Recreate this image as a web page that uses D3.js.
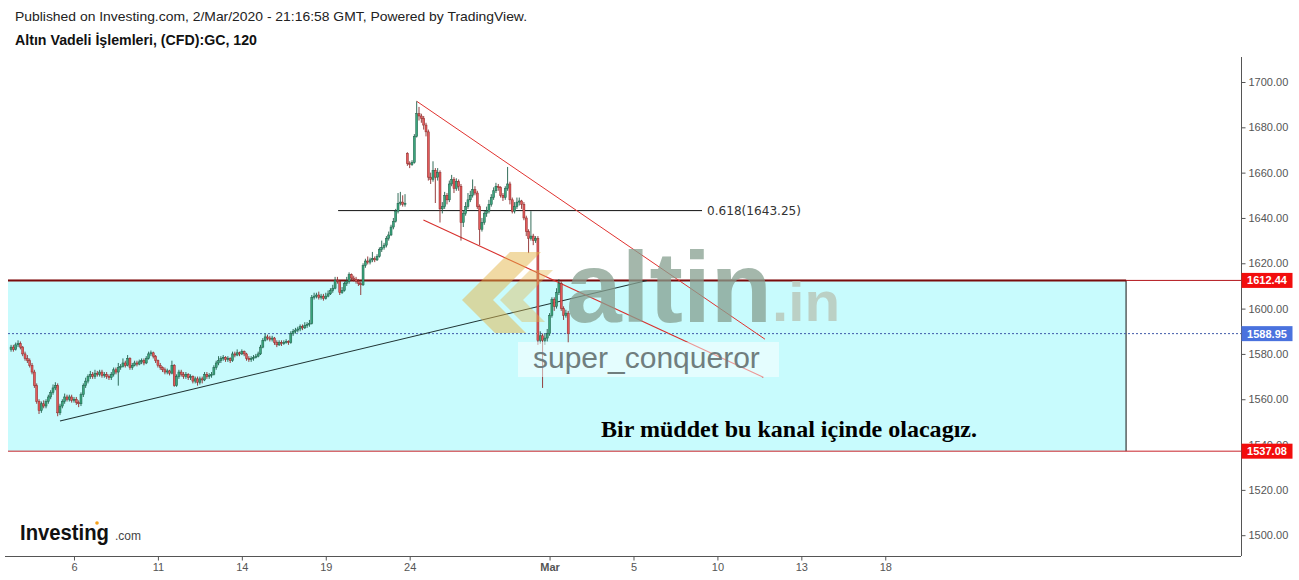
<!DOCTYPE html>
<html><head><meta charset="utf-8">
<script src="https://cdn.jsdelivr.net/npm/d3@7"></script>
<style>body{margin:0;background:#fff;} svg{display:block;font-family:"Liberation Sans",Arial,sans-serif;}</style>
</head><body><svg id="c" width="1299" height="580"></svg>
<script>
// ---- data (2-hour bars, bar index counted from Feb 3 session start, 12 bars / trading day) ----
const firstBar = 9;
const opens = [1582,1583,1582,
1584,1584.5,1583,1580,1578,1577,1575,1572,1566,1559,1555,1558,
1557,1559,1561,1563,1565,1566,1554,1557,1559,1561,1560,1561,
1559.5,1560,1558.5,1558,1562,1566,1568,1570,1571,1570,1571.5,1571,
1572,1570.5,1571,1570,1569.5,1571,1573,1572,1574,1574.5,1576,1575,
1578,1574,1575,1576,1575.5,1576.5,1577,1576,1578,1580,1580.5,1579,
1577,1575,1574,1573,1572,1572.5,1571.5,1575,1566,1570,1572,1571,
1570,1571,1569.5,1570,1568,1569,1567.5,1569,1568.5,1571,1570,1570.5,
1571,1574,1576,1577,1578,1578.5,1577.5,1578,1577,1580,1579.5,1580.5,
1580,1581,1580,1578,1577.5,1578,1578.5,1579,1580,1583,1586,1587.5,
1587,1586.5,1587,1585,1584,1585,1584.5,1585,1585.5,1585,1589,1590,
1590.5,1591,1592,1591.5,1592.5,1593,1593.5,1605,1605.5,1606,1605,1605.5,
1604.5,1605.5,1606.5,1608,1609,1612.5,1612,1607,1608,1611,1612,1615,
1613.5,1613,1612,1611,1610.5,1619,1621,1620.5,1621.5,1622,1621.5,1623,
1626,1627,1628,1631,1632.5,1636,1638.5,1643,1646.5,1647,1646,1668.5,
1664,1663.5,1664.5,1676,1686,1685,1684,1681,1678,1658,1657,1661,
1658,1660,1644,1645,1650,1648,1655,1657,1653,1656,1654,1638,
1642,1645,1648,1650,1652.5,1651,1645,1635,1638,1642,1643,1646,
1649,1652,1654,1653.5,1650,1649,1653,1655,1648,1643,1645,1647,
1647.5,1646,1640,1634,1631,1632,1630,1631,1586,1588,1586,1587,
1589,1597,1604,1601,1607,1611,1600,1597,1598];
const highs = [1584,1584,1585,
1586,1585.5,1583.5,1581,1579.5,1578,1576,1573,1567,1560,1559,1559.5,
1560,1562,1564,1566.5,1567.5,1567,1558,1560,1562.5,1562,1562,1562,
1561,1561,1559.5,1563,1567,1569.5,1571,1572.5,1572,1573,1572.5,1573,
1573,1572,1572,1571,1572,1574,1574,1576,1575.5,1578,1577,1579.5,
1578.5,1576,1577,1577,1577.5,1578,1578,1579,1581,1581.5,1581,1579.5,
1577.5,1576,1574.5,1574,1573.5,1573,1577,1575.5,1571,1573,1573,1572,
1572,1571.5,1571,1570.5,1570,1570,1570,1570,1572,1572,1571.5,1572,
1575,1577,1579,1579,1579.5,1579,1579,1578.5,1581,1581,1582,1581,
1582,1581.5,1580.5,1579,1579,1579.5,1580,1581,1584,1587,1589,1588.5,
1588,1588,1587.5,1586,1586,1586,1586,1586.5,1586,1590,1591,1591.5,
1592,1593,1593,1594,1594,1595,1606,1607,1607,1607.5,1606.5,1606.5,
1607,1608,1609,1610.5,1614,1614,1612.5,1609.5,1612,1614,1616,1615.5,
1614.5,1614,1613,1612,1620,1622,1623,1622.5,1625,1623,1624,1627,
1630,1629,1632,1634,1637,1640,1644,1651,1651.5,1650,1650.5,1669,
1665,1665.5,1677,1691.5,1689,1686,1685,1682,1679,1660,1665,1662,
1662,1661,1647,1651.5,1651,1656.5,1659,1658,1657.5,1657,1655,1643.5,
1647,1651,1652,1657,1654,1652,1646,1640,1643,1645,1648,1650.5,
1653.5,1655.5,1655,1654,1651,1654,1662.5,1656,1649,1647,1649,1649,
1648,1647,1641,1635,1643,1633,1632,1632,1590,1589,1589,1591,
1598,1605,1605,1609,1613,1612,1601,1599.5,1599];
const lows = [1581,1581,1581.5,
1583,1582,1579,1577,1576,1574,1571,1565,1558,1553.5,1554,1556,
1556,1558,1560,1562,1564,1552.5,1553,1556,1558,1559,1559,1558.5,
1558.5,1557.5,1556.5,1557,1561,1565,1567,1569,1569,1569,1570,1570,
1569.5,1569.5,1569,1568.5,1568.5,1570,1571,1566,1573,1574,1574,1574.5,
1573,1573,1574.5,1574.5,1575,1575.5,1575,1575.5,1577.5,1579,1578,1576,
1574,1573,1572,1571,1571,1570.5,1571,1565.5,1565.5,1569,1570,1569,
1569,1568.5,1568.5,1567,1567,1566,1566.5,1567,1568,1569,1569,1569.5,
1570.5,1573,1575,1576,1577,1576.5,1576.5,1576,1576.5,1578.5,1579,1579,
1579.5,1579,1577,1576.5,1576.5,1577,1578,1578.5,1579.5,1582.5,1585.5,1586,
1585.5,1585.5,1584,1583,1583.5,1583.5,1584,1584.5,1584,1584.5,1588,1589,
1589.5,1590,1590.5,1591,1591.5,1592,1593,1604,1604.5,1604,1604,1603.5,
1604,1605,1606,1607,1608.5,1611,1606,1606.5,1607.5,1610,1611,1612.5,
1612,1611,1610,1606,1610,1618,1619.5,1619.5,1620.5,1620.5,1621,1622.5,
1625,1626,1627,1630,1632,1635,1638,1642,1645.5,1645,1645,1663,
1662,1663,1664,1675.5,1683,1682,1679,1676,1656.5,1655,1656,1646.6,
1656.5,1638,1642,1644,1646,1647,1654,1651,1652,1652,1630,1636,
1641,1644,1647,1649,1650,1644,1628,1634,1637,1640.5,1642,1645,
1648,1651,1652,1649,1647.5,1648,1652,1646,1642,1642,1644,1645.5,
1644,1639,1632,1624.5,1630,1628,1629,1584,1584.5,1565,1584,1585.5,
1588,1596,1599,1600,1606,1599,1595,1596,1585];
const closes = [1583,1582,1584,
1584.5,1583,1580,1578,1577,1575,1572,1566,1559,1555,1558,1557,
1559,1561,1563,1565,1566,1554,1557,1559,1561,1560,1561,1559.5,
1560,1558.5,1558,1562,1566,1568,1570,1571,1570,1571.5,1571,1572,
1570.5,1571,1570,1569.5,1571,1573,1572,1574,1574.5,1576,1575,1578,
1574,1575,1576,1575.5,1576.5,1577,1576,1578,1580,1580.5,1579,1577,
1575,1574,1573,1572,1572.5,1571.5,1575,1566,1570,1572,1571,1570,
1571,1569.5,1570,1568,1569,1567.5,1569,1568.5,1571,1570,1570.5,1571,
1574,1576,1577,1578,1578.5,1577.5,1578,1577,1580,1579.5,1580.5,1580,
1581,1580,1578,1577.5,1578,1578.5,1579,1580,1583,1586,1587.5,1587,
1586.5,1587,1585,1584,1585,1584.5,1585,1585.5,1585,1589,1590,1590.5,
1591,1592,1591.5,1592.5,1593,1593.5,1605,1605.5,1606,1605,1605.5,1604.5,
1605.5,1606.5,1608,1609,1612.5,1612,1607,1608,1611,1612,1615,1613.5,
1613,1612,1611,1610.5,1619,1621,1620.5,1621.5,1622,1621.5,1623,1626,
1627,1628,1631,1632.5,1636,1638.5,1643,1646.5,1647,1646,1646.5,1664,
1663.5,1664.5,1676,1686,1685,1684,1681,1678,1658,1657,1661,1658,
1660,1644,1645,1650,1648,1655,1657,1653,1656,1654,1638,1642,
1645,1648,1650,1652.5,1651,1645,1635,1638,1642,1643,1646,1649,
1652,1654,1653.5,1650,1649,1653,1655,1648,1643,1645,1647,1647.5,
1646,1640,1634,1631,1632,1630,1631,1586,1588,1586,1587,1589,
1597,1604,1601,1607,1611,1600,1597,1598,1588.95];

const yTicks = [1500,1520,1540,1560,1580,1600,1620,1640,1660,1680,1700];
const xTickBars = [36,72,108,144,180,240,276,312,348,384];
const xTickLabels = ['6','11','14','19','24','Mar','5','10','13','18'];

const channelTop = 1612.44, channelBottom = 1537.08, lastPrice = 1588.95;
const channelEndBar = 487.3;
const fibLevel = 1643.25, fibStartBar = 149.3, fibEndBar = 305.4, fibLabel = '0.618(1643.25)';
const supportLine = [[30.0,1550.4],[281.8,1612.44]];
const upperLine = [[183,1691.5],[332.4,1586.5]];
const lowerLine = [[185.9,1639.1],[331.7,1569.7]];

const headerLine1 = 'Published on Investing.com, 2/Mar/2020 - 21:16:58 GMT, Powered by TradingView.';
const headerLine2 = 'Altın Vadeli İşlemleri, (CFD):GC, 120';
const noteText = 'Bir müddet bu kanal içinde olacagız.';

// ---- layout ----
const L = 8, R = 1241, T = 57, B = 556;
const svg = d3.select('#c');
const x = d3.scaleLinear().domain([7.69, 536.6]).range([L, R]);
const y = d3.scaleLinear().domain([1500, 1700]).range([535.2, 82]);

svg.append('defs').append('clipPath').attr('id','plot')
  .append('rect').attr('x',L).attr('y',T).attr('width',R-L).attr('height',B-T);

// header
svg.append('text').attr('x',15).attr('y',21).attr('font-size',13.5).attr('fill','#222')
  .attr('textLength',512).attr('lengthAdjust','spacingAndGlyphs').text(headerLine1);
svg.append('text').attr('x',15).attr('y',45).attr('font-size',14).attr('font-weight','bold').attr('fill','#111')
  .attr('textLength',242).attr('lengthAdjust','spacingAndGlyphs').text(headerLine2);

const plot = svg.append('g').attr('clip-path','url(#plot)');

// channel box
plot.append('rect').attr('x', L - 2).attr('y', y(channelTop))
  .attr('width', x(channelEndBar) - L + 2).attr('height', y(channelBottom) - y(channelTop))
  .attr('fill', '#c8fbfd');
plot.append('line').attr('x1',x(channelEndBar)).attr('x2',x(channelEndBar))
  .attr('y1',y(channelTop)).attr('y2',y(channelBottom)).attr('stroke','#111').attr('stroke-width',1);
plot.append('line').attr('x1',L).attr('x2',R).attr('y1',y(channelTop)).attr('y2',y(channelTop))
  .attr('stroke','#b3141a').attr('stroke-width',1);
plot.append('line').attr('x1',L).attr('x2',x(channelEndBar)).attr('y1',y(channelTop)).attr('y2',y(channelTop))
  .attr('stroke','#7a0c0c').attr('stroke-width',2);
plot.append('line').attr('x1',L).attr('x2',R).attr('y1',y(channelBottom)).attr('y2',y(channelBottom))
  .attr('stroke','#c8232a').attr('stroke-width',1);

// last price dotted line
plot.append('line').attr('x1',L).attr('x2',R).attr('y1',y(lastPrice)).attr('y2',y(lastPrice))
  .attr('stroke','#3f5aa8').attr('stroke-width',1).attr('stroke-dasharray','2,2');

// fib line
plot.append('line').attr('x1',x(fibStartBar)).attr('x2',x(fibEndBar)).attr('y1',y(fibLevel)).attr('y2',y(fibLevel))
  .attr('stroke','#111').attr('stroke-width',1);
plot.append('text').attr('x',x(fibEndBar)+5).attr('y',y(fibLevel)+4)
  .attr('font-family','"DejaVu Sans",Verdana,sans-serif').attr('font-size',11.5).attr('fill','#333')
  .attr('textLength',94).attr('lengthAdjust','spacingAndGlyphs').text(fibLabel);

// trend lines
const lineGen = d3.line().x(d => x(d[0])).y(d => y(d[1]));
plot.append('path').attr('d', lineGen(supportLine)).attr('stroke','#1f3333').attr('stroke-width',1.1).attr('fill','none');
plot.append('path').attr('d', lineGen(upperLine)).attr('stroke','#e0322f').attr('stroke-width',1).attr('fill','none');
plot.append('path').attr('d', lineGen(lowerLine)).attr('stroke','#d8312e').attr('stroke-width',1.1).attr('fill','none');

// candles
const candles = closes.map((c,k) => ({bar: firstBar + k, o: opens[k], h: highs[k], l: lows[k], c}));
const cg = plot.append('g');
candles.forEach(d => {
  const up = d.c >= d.o;
  const edge = up ? '#1e5e48' : '#8c2a2a';
  const fill = up ? '#3aa57c' : '#e25a5a';
  const cx = x(d.bar);
  cg.append('line').attr('x1',cx).attr('x2',cx).attr('y1',y(d.h)).attr('y2',y(d.l))
    .attr('stroke', edge).attr('stroke-width',0.9);
  const top = y(Math.max(d.o,d.c)), bot = y(Math.min(d.o,d.c));
  cg.append('rect').attr('x',cx-1).attr('width',2)
    .attr('y',top).attr('height',Math.max(1,bot-top))
    .attr('fill',fill).attr('stroke',edge).attr('stroke-width',0.5);
});

// watermark (altin.in logo + user)
const wm = plot.append('g');
wm.append('path').attr('d','M462,300 L510,252 L541,252 L493,300 L526,333 L495,333 Z')
  .attr('fill','#e3b64a').attr('opacity',0.5);
wm.append('path').attr('d','M500,300 L530,270 L553,270 L523,300 L545,322 L522,322 Z')
  .attr('fill','#e3b64a').attr('opacity',0.4);
wm.append('text').attr('x',566).attr('y',322).attr('font-size',100).attr('font-weight','bold')
  .attr('textLength',206).attr('lengthAdjust','spacingAndGlyphs')
  .attr('fill','#86a090').attr('opacity',0.75).text('altin');
wm.append('text').attr('x',772).attr('y',321).attr('font-size',56).attr('font-weight','bold')
  .attr('textLength',68).attr('lengthAdjust','spacingAndGlyphs')
  .attr('fill','#b9c6b8').attr('opacity',0.8).text('.in');
wm.append('rect').attr('x',518).attr('y',342).attr('width',261).attr('height',35)
  .attr('fill','#ffffff').attr('opacity',0.5);
wm.append('text').attr('x',533).attr('y',368).attr('font-size',30)
  .attr('fill','#6a7878').attr('opacity',0.95).text('super_conqueror');

// note
plot.append('text').attr('x',601).attr('y',437)
  .attr('font-family','"Liberation Serif","Times New Roman",serif').attr('font-weight','bold')
  .attr('font-size',23.5).attr('fill','#000')
  .attr('textLength',376).attr('lengthAdjust','spacingAndGlyphs').text(noteText);

// axes
svg.append('line').attr('x1',R+0.5).attr('x2',R+0.5).attr('y1',T).attr('y2',B).attr('stroke','#555');
svg.append('line').attr('x1',5).attr('x2',R).attr('y1',B+0.5).attr('y2',B+0.5).attr('stroke','#555');

const yAxis = d3.axisRight(y).tickValues(yTicks).tickFormat(d3.format('.2f')).tickSize(4).tickPadding(3);
const ya = svg.append('g').attr('transform',`translate(${R+0.5},0)`).call(yAxis);
ya.select('.domain').remove();
ya.selectAll('line').attr('stroke','#555');
ya.selectAll('text').attr('font-size',11).attr('fill','#555').attr('font-family','"Liberation Sans",Arial,sans-serif');

const xAxis = d3.axisBottom(x).tickValues(xTickBars).tickFormat((d,i) => xTickLabels[i]).tickSize(4).tickPadding(3);
const xa = svg.append('g').attr('transform',`translate(0,${B+0.5})`).call(xAxis);
xa.select('.domain').remove();
xa.selectAll('line').attr('stroke','#555');
xa.selectAll('text').attr('font-size',11).attr('fill','#555').attr('font-family','"Liberation Sans",Arial,sans-serif')
  .attr('font-weight', (d,i) => xTickLabels[i] === 'Mar' ? 'bold' : 'normal');

// price labels
function priceTag(v, color) {
  const g = svg.append('g');
  g.append('rect').attr('x',R+0.5).attr('y',y(v)-7.5).attr('width',51).attr('height',15).attr('fill',color);
  g.append('text').attr('x',R+26).attr('y',y(v)+4).attr('text-anchor','middle')
    .attr('font-size',11).attr('font-weight','bold').attr('fill','#fff').text(d3.format('.2f')(v));
}
priceTag(channelTop, '#f20d0d');
priceTag(channelBottom, '#f20d0d');
priceTag(lastPrice, '#4a72de');

// Investing.com logo
svg.append('text').attr('x',20).attr('y',540).attr('font-size',22).attr('font-weight','bold')
  .attr('font-family','"Liberation Sans Narrow","Arial Narrow",sans-serif')
  .attr('textLength',89).attr('lengthAdjust','spacingAndGlyphs').attr('fill','#111').text('Investing');
svg.append('text').attr('x',115).attr('y',540).attr('font-size',13)
  .attr('textLength',26).attr('lengthAdjust','spacingAndGlyphs').attr('fill','#444').text('.com');
svg.append('circle').attr('cx',97).attr('cy',523).attr('r',1.8).attr('fill','#f6a01a');
</script>
</body></html>
